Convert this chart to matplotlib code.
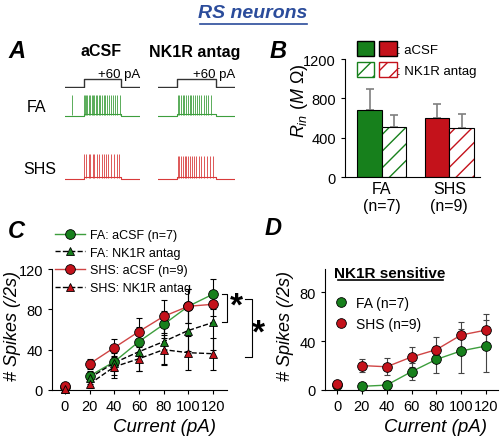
import matplotlib.pyplot as plt
from matplotlib.lines import Line2D
from matplotlib.patches import Patch
from matplotlib.legend_handler import HandlerTuple

plt.rcParams['font.family'] = ['Liberation Sans', 'DejaVu Sans']
plt.rcParams['mathtext.fontset'] = 'custom'
plt.rcParams['mathtext.rm'] = 'Liberation Sans'
plt.rcParams['mathtext.it'] = 'Liberation Sans:italic'

W, H = 502, 439

# ---- panel A: example traces (time in ms) ----
step_t = [0, 1000, 1000, 3000, 3000, 4000]
step_i = [0, 0, 60, 60, 0, 0]
spikes_fa_acsf = [380, 1010, 1070, 1140, 1200, 1270, 1340, 1420, 1490, 1570, 1650, 1720,
                  1800, 1890, 1970, 2060, 2150, 2240, 2330, 2430, 2540, 2660, 2790, 2930]
spikes_fa_nk1r = [1020, 1100, 1190, 1280, 1370, 1460, 1550, 1640, 1730, 1830, 1930, 2030,
                  2140, 2250, 2370, 2490, 2620, 2760]
spikes_shs_acsf = [1020, 1130, 1260, 1330, 1480, 1560, 1720, 1800, 1950, 2060, 2200, 2320,
                   2480, 2600, 2760, 2880]
spikes_shs_nk1r = [1030, 1110, 1200, 1290, 1380, 1470, 1570, 1670, 1770, 1880, 1990, 2110,
                   2240, 2380, 2530, 2690, 2860]

# ---- panel B: input resistance (MOhm) ----
rin_groups = ['FA\n(n=7)', 'SHS\n(n=9)']
rin_acsf = [680, 600]
rin_acsf_err = [215, 145]
rin_nk1r = [510, 495]
rin_nk1r_err = [120, 145]

# ---- panel C: spikes vs current ----
current = [0, 20, 40, 60, 80, 100, 120]
fa_acsf = [3, 14, 28, 48, 65, 83, 95]
fa_acsf_err = [1, 5, 9, 14, 13, 17, 15]
fa_nk1r = [1, 12, 27, 38, 48, 59, 67]
fa_nk1r_err = [1, 6, 12, 19, 22, 20, 27]
shs_acsf = [4, 26, 42, 58, 73, 83, 85]
shs_acsf_err = [1, 5, 9, 13, 16, 17, 12]
shs_nk1r = [1, 6, 23, 31, 40, 37, 36]
shs_nk1r_err = [1, 4, 11, 12, 15, 17, 16]

# ---- panel D: NK1R sensitive spikes ----
fa_sens = [4, 3, 4, 15, 25, 32, 36]
fa_sens_err = [1, 1, 3, 7, 11, 18, 21]
shs_sens = [5, 20, 19, 27, 33, 45, 49]
shs_sens_err = [2, 5, 7, 8, 10, 11, 13]

GREEN = '#17801c'
RED = '#c4121b'
TGREEN = '#3d9e3d'
TRED = '#d83a3a'

fig = plt.figure(figsize=(W / 100, H / 100), dpi=100)


def px_axes(x0, y0, x1, y1):
    return fig.add_axes([x0 / W, 1 - y1 / H, (x1 - x0) / W, (y1 - y0) / H])


def ftxt(x, y, s, **kw):
    return fig.text(x / W, 1 - y / H, s, **kw)


def uline(x0, x1, y, color='k'):
    fig.add_artist(Line2D([x0 / W, x1 / W], [1 - y / H, 1 - y / H], color=color, lw=1.2))


# title
ftxt(253, 13, 'RS neurons', fontsize=14, fontweight='bold', style='italic',
     color='#2b4c9b', ha='center', va='center')
uline(200, 307, 25, '#2b4c9b')

# panel letters
for lx, ly, letter in [(17, 52, 'A'), (278, 52, 'B'), (16, 232, 'C'), (273, 229, 'D')]:
    ftxt(lx, ly, letter, fontsize=17, fontweight='bold', style='italic', ha='center', va='center')

# ---------------- panel A ----------------
ftxt(101, 52, 'aCSF', fontsize=11.5, fontweight='bold', ha='center', va='center')
ftxt(195, 52, 'NK1R antag', fontsize=11.5, fontweight='bold', ha='center', va='center')
ftxt(36, 108, 'FA', fontsize=11.5, ha='center', va='center')
ftxt(40, 170, 'SHS', fontsize=11.5, ha='center', va='center')


def draw_trace(ax, spikes, color, peak):
    base_t = [0, 1000, 1000, 3000, 3000, 4000]
    base_v = [-70, -70, -63, -63, -70, -70]
    ax.plot(base_t, base_v, color=color, lw=0.8)
    ax.vlines(spikes, -66, peak, color=color, lw=0.7, alpha=0.85)
    ax.set_xlim(0, 4000)
    ax.set_ylim(-83, 29)
    ax.axis('off')


for x0, x1, fa_sp, shs_sp, shs_peak in [(65, 140, spikes_fa_acsf, spikes_shs_acsf, 20),
                                        (158, 235, spikes_fa_nk1r, spikes_shs_nk1r, 14)]:
    ax = px_axes(x0, 78.7, x1, 89.4)
    ax.plot(step_t, step_i, color='#333333', lw=1.0)
    ax.set_xlim(0, 4000)
    ax.set_ylim(-10, 70)
    ax.axis('off')
    ftxt(x1, 75, '+60 pA', fontsize=9.5, ha='right', va='center')
    draw_trace(px_axes(x0, 94, x1, 120), fa_sp, TGREEN, 20)
    draw_trace(px_axes(x0, 152.5, x1, 183.5), shs_sp, TRED, shs_peak)

# ---------------- panel B ----------------
axb = px_axes(345, 60, 480, 178)
gx = [1.5, 4.25]
bw = 1.0
xa = [g - bw / 2 for g in gx]
xn = [g + bw / 2 for g in gx]
cols = [GREEN, RED]
axb.bar(xa, rin_acsf, bw, color=cols, edgecolor='k', lw=0.8, zorder=2)
axb.errorbar(xa, rin_acsf, yerr=[[0, 0], rin_acsf_err], fmt='none', ecolor='#7f7f7f',
             elinewidth=1.2, capsize=3, capthick=1.2, zorder=1)
for x, v, c in zip(xn, rin_nk1r, cols):
    axb.bar(x, v, bw, color='white', edgecolor=c, hatch='//', lw=0, zorder=2)
    axb.bar(x, v, bw, fill=False, edgecolor='k', lw=0.8, zorder=3)
axb.errorbar(xn, rin_nk1r, yerr=[[0, 0], rin_nk1r_err], fmt='none', ecolor='#7f7f7f',
             elinewidth=1.2, capsize=3, capthick=1.2, zorder=1)
axb.set_xlim(0, 5.5)
axb.set_ylim(0, 1200)
axb.set_yticks([0, 400, 800, 1200])
axb.set_xticks(gx)
axb.set_xticklabels(rin_groups, fontsize=11.5, linespacing=1.15)
axb.tick_params(axis='x', length=0, pad=3)
axb.tick_params(axis='y', labelsize=10.5, length=3)
for s in ['top', 'right']:
    axb.spines[s].set_visible(False)
ftxt(299, 101, r'$R_{in}$ $(M\ \Omega)$', fontsize=13, style='italic', rotation=90,
     ha='center', va='center')
solid = (Patch(facecolor=GREEN, edgecolor='k'), Patch(facecolor=RED, edgecolor='k'))
hatched = (Patch(facecolor='white', edgecolor=GREEN, hatch='//'),
           Patch(facecolor='white', edgecolor=RED, hatch='//'))
fig.legend(handles=[solid, hatched], labels=[': aCSF', ': NK1R antag'],
           handler_map={tuple: HandlerTuple(ndivide=None, pad=0.35)},
           handlelength=3.0, handleheight=1.35, handletextpad=0.05, labelspacing=0.45,
           loc='upper left', bbox_to_anchor=(357 / W, 1 - 42 / H), frameon=False, fontsize=9.5,
           borderpad=0, borderaxespad=0)

# ---------------- panel C ----------------
axc = px_axes(52, 270, 227, 391)
series_c = [
    (fa_acsf, fa_acsf_err, GREEN, '#3d9e3d', '-', 'o', 'FA: aCSF (n=7)'),
    (fa_nk1r, fa_nk1r_err, GREEN, 'k', '--', '^', 'FA: NK1R antag'),
    (shs_acsf, shs_acsf_err, RED, '#d04545', '-', 'o', 'SHS: aCSF (n=9)'),
    (shs_nk1r, shs_nk1r_err, RED, 'k', '--', '^', 'SHS: NK1R antag'),
]
handles_c = []
for vals, err, mc, lc, ls, mk, lab in series_c:
    axc.errorbar(current, vals, yerr=err, fmt='none', ecolor='k', elinewidth=0.8,
                 capsize=2, capthick=0.8, zorder=1, clip_on=False)
    axc.plot(current[1:], vals[1:], color=lc, ls=ls, lw=1.0, zorder=2)
    ms = 7 if mk == 'o' else 6
    axc.plot(current, vals, ls='none', marker=mk, mfc=mc, mec='k', mew=0.6, ms=ms,
             zorder=3, clip_on=False)
    handles_c.append(Line2D([], [], color=lc, ls=ls, lw=1.0, marker=mk, mfc=mc, mec='k',
                            mew=0.6, ms=ms, label=lab))
axc.set_xlim(-10.5, 131.4)
axc.set_ylim(0, 120)
axc.set_xticks(current)
axc.set_yticks([0, 40, 80, 120])
axc.tick_params(labelsize=10.5, length=3)
for s in ['top', 'right']:
    axc.spines[s].set_visible(False)
ftxt(13, 326, '# Spikes (/2s)', fontsize=13, style='italic', rotation=90,
     ha='center', va='center')
ftxt(165, 428, 'Current (pA)', fontsize=13.5, style='italic', ha='center', va='center')
fig.legend(handles=handles_c, loc='upper left', bbox_to_anchor=(55 / W, 1 - 230 / H),
           frameon=False, fontsize=9, handlelength=2.4, handletextpad=0.4,
           labelspacing=0.45, borderpad=0, borderaxespad=0)

# significance brackets
br1 = [fa_acsf[-1], fa_nk1r[-1]]
br2 = [shs_acsf[-1] + 5, shs_nk1r[-1] - 3]
axc.plot([127, 131, 131, 127], [br1[0], br1[0], br1[1], br1[1]], color='k', lw=0.8,
         clip_on=False)
axc.plot([146, 151.5, 151.5, 146], [br2[0], br2[0], br2[1], br2[1]], color='k', lw=0.8,
         clip_on=False)
axc.text(139, sum(br1) / 2 + 2, '*', fontsize=24, fontweight='bold', ha='center',
         va='center')
axc.text(157, sum(br2) / 2 - 5, '*', fontsize=24, fontweight='bold', ha='center',
         va='center')

# ---------------- panel D ----------------
axd = px_axes(325, 270, 498, 391)
handles_d = []
for vals, err, mc, lc, lab in [(fa_sens, fa_sens_err, GREEN, '#3d9e3d', 'FA (n=7)'),
                               (shs_sens, shs_sens_err, RED, '#d04545', 'SHS (n=9)')]:
    axd.errorbar(current, vals, yerr=err, fmt='none', ecolor='#444444', elinewidth=0.8,
                 capsize=2, capthick=0.8, zorder=1, clip_on=False)
    axd.plot(current[1:], vals[1:], color=lc, lw=1.0, zorder=2)
    axd.plot(current, vals, ls='none', marker='o', mfc=mc, mec='k', mew=0.6, ms=7,
             zorder=3, clip_on=False)
    handles_d.append(Line2D([], [], ls='none', marker='o', mfc=mc, mec='k', mew=0.6, ms=7,
                            label=lab))
axd.set_xlim(-9.7, 129.7)
axd.set_ylim(0, 99)
axd.set_xticks(current)
axd.set_yticks([0, 40, 80])
axd.tick_params(labelsize=10.5, length=3)
for s in ['top', 'right']:
    axd.spines[s].set_visible(False)
ftxt(285, 326, '# Spikes (/2s)', fontsize=13, style='italic', rotation=90,
     ha='center', va='center')
ftxt(436, 428, 'Current (pA)', fontsize=13.5, style='italic', ha='center', va='center')
ftxt(390, 274, 'NK1R sensitive', fontsize=11, fontweight='bold', ha='center', va='center')
uline(338, 443, 281)
axd.legend(handles=handles_d, loc='upper left', bbox_to_anchor=(0.05, 0.78), frameon=False,
           fontsize=10, handlelength=1.0, handletextpad=0.6, labelspacing=0.5,
           borderpad=0, borderaxespad=0)

fig.savefig('out.png', dpi=100)
